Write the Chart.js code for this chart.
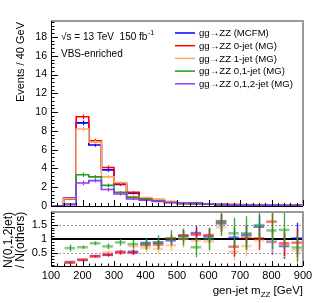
<!DOCTYPE html>
<html><head><meta charset="utf-8">
<script src="https://cdn.jsdelivr.net/npm/chart.js@4.4.0/dist/chart.umd.min.js"></script>
<style>
html,body{margin:0;padding:0;background:#fff;}
#wrap{position:relative;width:316px;height:303px;background:#fff;}
canvas{position:absolute;left:0;top:0;}
</style></head><body>
<div id="wrap"><canvas id="upper" width="316" height="303"></canvas><canvas id="lower" width="316" height="303"></canvas></div>
<script>
const FONT = "'Liberation Sans', Arial, Helvetica, sans-serif";

// ---- data ----
const binEdges = [100,140,180,220,260,300,340,380,420,460,500,540,580,620,660,700,740,780,820,860,900];
const seriesLabels = ['gg\u2192ZZ (MCFM)','gg\u2192ZZ 0-jet (MG)','gg\u2192ZZ 1-jet (MG)','gg\u2192ZZ 0,1-jet (MG)','gg\u2192ZZ 0,1,2-jet (MG)'];
const seriesColors = ['#0000ff','#ff0000','#ffaa66','#1f9e1f','#9933ff'];

// Events / 40 GeV per bin
const evMCFM  = [0, 0.85, 8.85, 6.5, 3.85, 2.3, 1.35, 0.72, 0.55, 0.40, 0.27, 0.21, 0.18, 0.13, 0.11, 0.10, 0.07, 0.10, 0.09, 0.06];
const evMG0   = [0, 0.75, 9.5, 6.95, 4.1, 2.35, 1.45, 0.80, 0.60, 0.38, 0.27, 0.22, 0.18, 0.12, 0.16, 0.11, 0.10, 0.06, 0.08, 0.07];
const evMG1   = [0, 0.80, 8.2, 6.8, 3.1, 2.5, 1.0, 0.90, 0.75, 0.50, 0.30, 0.27, 0.22, 0.14, 0.22, 0.16, 0.10, 0.10, 0.09, 0.10];
const evMG01  = [0, 0.22, 3.33, 3.1, 2.2, 1.45, 0.92, 0.75, 0.55, 0.37, 0.28, 0.35, 0.20, 0.12, 0.10, 0.10, 0.07, 0.07, 0.05, 0.09];
const evMG012 = [0, 0.15, 2.45, 2.7, 1.75, 1.28, 0.75, 0.62, 0.48, 0.38, 0.30, 0.25, 0.20, 0.20, 0.12, 0.12, 0.10, 0.09, 0.07, 0.06];
const evErr   = [0, 0.10, 0.25, 0.20, 0.20, 0.15, 0.12, 0.10, 0.10, 0.10, 0.10, 0.10, 0.10, 0.10, 0.10, 0.10, 0.10, 0.10, 0.10, 0.10];

// ratio N(0,1,2jet)/N(others) per bin
const ratioMCFM = [null, 0.19, 0.27, 0.40, 0.45, 0.55, 0.55, 0.86, 0.87, 0.95, 1.12, 1.21, 1.09, 1.55, 1.05, 1.15, 1.43, 0.90, 0.75, 1.02];
const ratioMG0  = [null, 0.17, 0.26, 0.39, 0.44, 0.52, 0.52, 0.78, 0.80, 1.01, 1.12, 1.15, 1.14, 1.63, 0.73, 1.05, 1.02, 1.61, 0.85, 0.87];
const ratioMG1  = [null, 0.17, 0.28, 0.38, 0.53, 0.53, 0.75, 0.68, 0.65, 0.78, 1.00, 0.94, 0.91, 1.41, 0.55, 0.75, 0.95, 0.90, 0.80, 0.60];
const ratioMG01 = [null, 0.68, 0.71, 0.85, 0.74, 0.88, 0.82, 0.82, 0.88, 1.03, 1.07, 0.71, 1.00, 1.61, 1.20, 1.20, 1.49, 1.30, 1.32, 0.70];
const errMCFM = [0, .03, .03, .04, .06, .07, .10, .12, .15, .15, .20, .25, .25, .30, .35, .35, .40, .45, .45, .55];
const errMG0  = [0, .03, .03, .04, .05, .07, .08, .12, .14, .16, .20, .22, .25, .35, .35, .40, .40, .45, .45, .50];
const errMG1  = [0, .04, .04, .05, .07, .08, .15, .15, .18, .20, .30, .30, .30, .30, .30, .35, .35, .40, .45, .45];
const errMG01 = [0, .12, .06, .07, .10, .12, .15, .20, .25, .28, .30, .35, .40, .50, .55, .60, .60, .65, .65, .50];

// ticks
const xTicks = [100,200,300,400,500,600,700,800,900];
const yTicksUpper = [0,2,4,6,8,10,12,14,16,18];
const yTicksRatio = [0.5,1,1.5];

// ---- helpers ----
const binCenters = binEdges.slice(0,-1).map((e,i)=>(e+binEdges[i+1])/2);
function histPoints(vals){ return binEdges.map((e,i)=>({x:e, y: vals[Math.min(i, vals.length-1)]})); }
function alpha(hex,a){ const n=parseInt(hex.slice(1),16); return `rgba(${n>>16},${(n>>8)&255},${n&255},${a})`; }

function drawFrame(ctx, ca){
  ctx.save();
  ctx.strokeStyle = '#9a9a9a'; ctx.lineWidth = 2;
  ctx.beginPath(); ctx.moveTo(ca.left, ca.top); ctx.lineTo(ca.right, ca.top); ctx.lineTo(ca.right, ca.bottom); ctx.stroke();
  ctx.strokeStyle = '#000'; ctx.lineWidth = 1;
  ctx.beginPath(); ctx.moveTo(ca.left+0.5, ca.top); ctx.lineTo(ca.left+0.5, ca.bottom+0.5); ctx.lineTo(ca.right, ca.bottom+0.5); ctx.stroke();
  ctx.restore();
}
function drawTicks(ctx, chart, yMajors, yMinorStep, yMax, yMin, yMajLen, xMajLen){
  const ca = chart.chartArea, xs = chart.scales.x, ys = chart.scales.y;
  ctx.save(); ctx.strokeStyle = '#000'; ctx.lineWidth = 1; ctx.beginPath();
  for (let v = yMin; v <= yMax + 1e-9; v += yMinorStep){
    const vv = Math.round(v*1000)/1000;
    const major = yMajors.some(m=>Math.abs(m-vv)<1e-6);
    const py = Math.round(ys.getPixelForValue(vv)) + 0.5;
    ctx.moveTo(ca.left, py); ctx.lineTo(ca.left + (major? yMajLen : yMajLen/2), py);
  }
  for (let v = 100; v <= 900; v += 20){
    const major = v % 100 === 0;
    const px = Math.round(xs.getPixelForValue(v)) + 0.5;
    ctx.moveTo(px, ca.bottom); ctx.lineTo(px, ca.bottom - (major? xMajLen : xMajLen/2));
  }
  ctx.stroke(); ctx.restore();
}

// ---- upper panel ----
const upperSeries = [evMCFM, evMG0, evMG1, evMG01, evMG012];
const upperPlugin = {
  id: 'upperDecor',
  afterDatasetsDraw(chart){
    const ctx = chart.ctx, xs = chart.scales.x, ys = chart.scales.y;
    chart.data.datasets.forEach(ds=>{
      ctx.save(); ctx.strokeStyle = ds.borderColor; ctx.lineWidth = 1.2; ctx.beginPath();
      ds.histVals.forEach((v,i)=>{
        if (v <= 0) return;
        const px = Math.round(xs.getPixelForValue(binCenters[i])) + 0.5;
        ctx.moveTo(px, ys.getPixelForValue(v - evErr[i])); ctx.lineTo(px, ys.getPixelForValue(v + evErr[i]));
      });
      ctx.stroke(); ctx.restore();
    });
    drawFrame(ctx, chart.chartArea);
    drawTicks(ctx, chart, yTicksUpper, 0.4, 19.6, 0, 7, 6);
  },
  afterDraw(chart){
    const ctx = chart.ctx;
    ctx.save(); ctx.fillStyle = '#000';
    ctx.save(); ctx.translate(21, 22); ctx.rotate(-Math.PI/2);
    ctx.font = `11px ${FONT}`; ctx.textAlign = 'right'; ctx.textBaseline = 'middle';
    ctx.fillText('Events / 40 GeV', 0, 0); ctx.restore();
    ctx.font = `10px ${FONT}`; ctx.textBaseline = 'alphabetic'; ctx.textAlign = 'left';
    const t1 = '\u221As = 13 TeV  150 fb';
    ctx.fillText(t1, 61, 40);
    const w1 = ctx.measureText(t1).width;
    ctx.font = `7px ${FONT}`; ctx.fillText('-1', 61 + w1 + 0.5, 35);
    ctx.font = `10px ${FONT}`; ctx.fillText('VBS-enriched', 61, 57);
    const rowY = [33, 45.7, 58.4, 71.1, 83.8];
    seriesLabels.forEach((lab,i)=>{
      ctx.strokeStyle = seriesColors[i]; ctx.lineWidth = 1.5;
      ctx.beginPath(); ctx.moveTo(175, rowY[i]); ctx.lineTo(195, rowY[i]); ctx.stroke();
      ctx.fillStyle = '#000'; ctx.font = `9.6px ${FONT}`; ctx.textBaseline = 'middle';
      ctx.fillText(lab, 199, rowY[i] + 0.5);
    });
    ctx.restore();
  }
};
const drawOrder = [4,3,2,1,0];
new Chart(document.getElementById('upper'), {
  type: 'line',
  data: { datasets: upperSeries.map((vals,i)=>({
    label: seriesLabels[i], data: histPoints(vals), histVals: vals,
    borderColor: seriesColors[i], backgroundColor: seriesColors[i], borderWidth: 1.6,
    stepped: 'before', pointRadius: 0, fill: false, order: drawOrder[i]
  })) },
  options: {
    responsive: false, animation: false, devicePixelRatio: 1,
    layout: { padding: { left: 0, right: 13, top: 21, bottom: 97 } },
    scales: {
      x: { type: 'linear', min: 100, max: 900, display: false },
      y: { type: 'linear', min: 0, max: 19.7,
        afterFit: s => { s.width = 51; },
        afterBuildTicks: s => { s.ticks = yTicksUpper.map(v=>({value:v})); },
        ticks: { color: '#000', font: { family: FONT, size: 10.5 }, padding: 4 },
        grid: { display: false, drawTicks: false }, border: { display: false } }
    },
    plugins: { legend: { display: false }, tooltip: { enabled: false } }
  },
  plugins: [upperPlugin]
});

// ---- lower panel ----
const ratioSeries = [
  {vals: ratioMCFM, errs: errMCFM, color: seriesColors[0]},
  {vals: ratioMG1,  errs: errMG1,  color: seriesColors[2]},
  {vals: ratioMG0,  errs: errMG0,  color: seriesColors[1]},
  {vals: ratioMG01, errs: errMG01, color: seriesColors[3]}
];
const lowerPlugin = {
  id: 'lowerDecor',
  beforeDatasetsDraw(chart){
    const ctx = chart.ctx, ca = chart.chartArea, ys = chart.scales.y;
    ctx.save();
    ctx.strokeStyle = '#999'; ctx.lineWidth = 1; ctx.setLineDash([2,2]);
    [0.5,1.5].forEach(v=>{ const py = Math.round(ys.getPixelForValue(v))+0.5;
      ctx.beginPath(); ctx.moveTo(ca.left, py); ctx.lineTo(ca.right, py); ctx.stroke(); });
    ctx.setLineDash([]); ctx.strokeStyle = '#000'; ctx.lineWidth = 2;
    const p1 = Math.round(ys.getPixelForValue(1));
    ctx.beginPath(); ctx.moveTo(ca.left, p1); ctx.lineTo(ca.right, p1); ctx.stroke();
    ctx.restore();
  },
  afterDatasetsDraw(chart){
    const ctx = chart.ctx, ca = chart.chartArea, xs = chart.scales.x, ys = chart.scales.y;
    ctx.save();
    ctx.beginPath(); ctx.rect(ca.left, ca.top, ca.right-ca.left, ca.bottom-ca.top); ctx.clip();
    chart.data.datasets.forEach(ds=>{
      ds.data.forEach(pt=>{
        const i = pt.bin;
        const x0 = xs.getPixelForValue(binEdges[i]), x1 = xs.getPixelForValue(binEdges[i+1]);
        const xc = Math.round(xs.getPixelForValue(pt.x)) + 0.5;
        const py = ys.getPixelForValue(pt.y);
        ctx.strokeStyle = alpha(ds.borderColor, 0.55); ctx.lineWidth = 2.5;
        ctx.beginPath(); ctx.moveTo(x0+1, py); ctx.lineTo(x1-1, py); ctx.stroke();
        ctx.strokeStyle = alpha(ds.borderColor, 0.85); ctx.lineWidth = 1.4;
        ctx.beginPath(); ctx.moveTo(xc, ys.getPixelForValue(pt.y - pt.err)); ctx.lineTo(xc, ys.getPixelForValue(pt.y + pt.err)); ctx.stroke();
      });
    });
    ctx.restore();
    drawFrame(ctx, ca);
    drawTicks(ctx, chart, yTicksRatio, 0.1, 1.9, 0.1, 7, 5);
  },
  afterDraw(chart){
    const ctx = chart.ctx;
    ctx.save(); ctx.fillStyle = '#000';
    ctx.font = `12px ${FONT}`; ctx.textAlign = 'center'; ctx.textBaseline = 'middle';
    ctx.save(); ctx.translate(8.5, 240); ctx.rotate(-Math.PI/2); ctx.fillText('N(0,1,2jet)', 0, 0); ctx.restore();
    ctx.save(); ctx.translate(21, 240); ctx.rotate(-Math.PI/2); ctx.fillText('/ N(others)', 0, 0); ctx.restore();
    ctx.textAlign = 'left'; ctx.textBaseline = 'alphabetic';
    const a = 'gen-jet m', b = 'ZZ', c = ' [GeV]';
    ctx.font = `11.5px ${FONT}`; const wa = ctx.measureText(a).width, wc = ctx.measureText(c).width;
    ctx.font = `8px ${FONT}`; const wb = ctx.measureText(b).width;
    let x = 303 - (wa + wb + wc);
    const base = 294;
    ctx.font = `11.5px ${FONT}`; ctx.fillText(a, x, base); x += wa;
    ctx.font = `8px ${FONT}`; ctx.fillText(b, x, base + 3); x += wb;
    ctx.font = `11.5px ${FONT}`; ctx.fillText(c, x, base);
    ctx.restore();
  }
};
new Chart(document.getElementById('lower'), {
  type: 'scatter',
  data: { datasets: ratioSeries.map(s=>({
    data: s.vals.map((v,i)=> v==null ? null : ({x: binCenters[i], y: v, err: s.errs[i], bin: i})).filter(p=>p),
    borderColor: s.color, backgroundColor: s.color, pointRadius: 0, showLine: false
  })) },
  options: {
    responsive: false, animation: false, devicePixelRatio: 1,
    layout: { padding: { left: 0, right: 13, top: 212, bottom: 0 } },
    scales: {
      x: { type: 'linear', min: 100, max: 900,
        afterFit: s => { s.height = 37; },
        afterBuildTicks: s => { s.ticks = xTicks.map(v=>({value:v})); },
        ticks: { color: '#000', font: { family: FONT, size: 11 }, padding: 3, autoSkip: false, maxRotation: 0 },
        grid: { display: false, drawTicks: false }, border: { display: false } },
      y: { type: 'linear', min: 0.05, max: 1.95,
        afterFit: s => { s.width = 51; },
        afterBuildTicks: s => { s.ticks = yTicksRatio.map(v=>({value:v})); },
        ticks: { color: '#000', font: { family: FONT, size: 11 }, padding: 4, callback: v => String(v) },
        grid: { display: false, drawTicks: false }, border: { display: false } }
    },
    plugins: { legend: { display: false }, tooltip: { enabled: false } }
  },
  plugins: [lowerPlugin]
});
</script>
</body></html>
